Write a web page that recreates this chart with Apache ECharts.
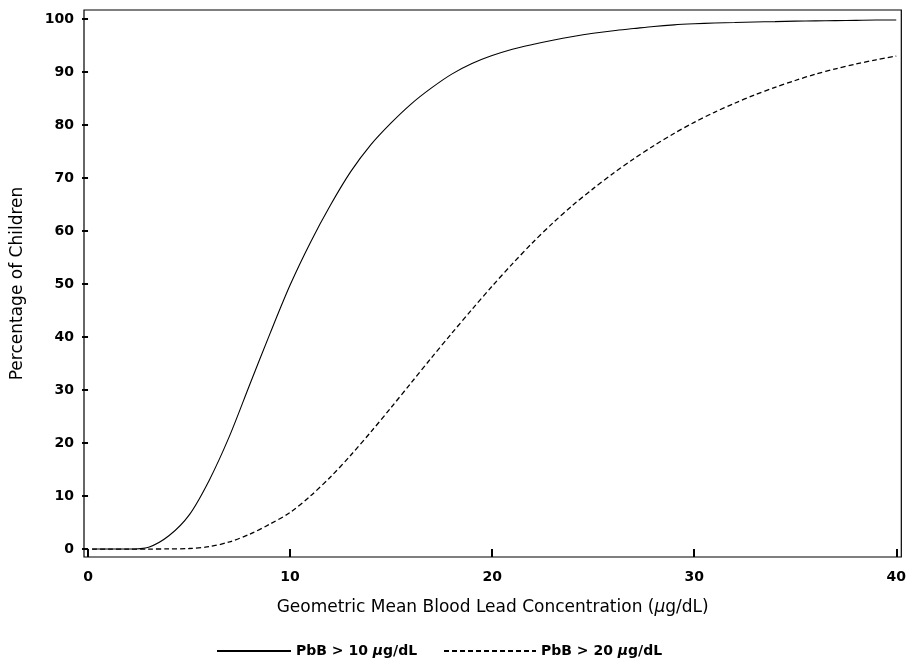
<!DOCTYPE html>
<html>
<head>
<meta charset="utf-8">
<script src="https://cdn.jsdelivr.net/npm/echarts@6/dist/echarts.min.js"></script>
<style>
  html, body { margin: 0; padding: 0; background: #fff; }
  #chart { width: 909px; height: 664px; }
</style>
</head>
<body>
<div id="chart"></div>
<script>
// Geometric mean blood lead concentration (µg/dL)
const gm = [0.2, 1, 2, 3, 4, 5, 6, 7, 8, 9, 10, 11, 12, 13, 14, 15, 16, 17, 18, 19, 20,
            21, 22, 23, 24, 25, 26, 27, 28, 29, 30, 31, 32, 33, 34, 35, 36, 37, 38, 39, 40];

// Percentage of children with PbB > 10 µg/dL
const over10 = [0, 0, 0, 0.35, 2.5, 6.4, 13.0, 21.3, 31.0, 40.6, 49.8, 57.8, 64.9, 71.2, 76.3,
                80.4, 84.0, 87.0, 89.6, 91.6, 93.1, 94.3, 95.2, 96.0, 96.7, 97.3, 97.8, 98.2,
                98.6, 98.9, 99.1, 99.25, 99.35, 99.45, 99.5, 99.6, 99.65, 99.7, 99.75, 99.8, 99.8];

// Percentage of children with PbB > 20 µg/dL
const over20 = [0, 0, 0, 0, 0.03, 0.1, 0.45, 1.35, 2.8, 4.7, 6.9, 10.0, 13.6, 17.7, 22.1,
                26.7, 31.4, 36.1, 40.7, 45.2, 49.6, 53.8, 57.8, 61.5, 64.9, 68.0, 70.9, 73.6,
                76.1, 78.4, 80.5, 82.4, 84.1, 85.7, 87.1, 88.4, 89.6, 90.6, 91.5, 92.3, 93.0];

const xTicks = [0, 10, 20, 30, 40];
const yTicks = [0, 10, 20, 30, 40, 50, 60, 70, 80, 90, 100];

const seriesNames = ['PbB > 10 μg/dL', 'PbB > 20 μg/dL'];

const FONT = '"DejaVu Sans", "Liberation Sans", sans-serif';

const pairs = (ys) => gm.map((x, i) => [x, ys[i]]);

const legendFormatter = (name) => name.replace('μ', '{mu|μ}');
const legendText = {
  fontFamily: FONT, fontSize: 14, fontWeight: 'bold', color: '#000',
  rich: { mu: { fontFamily: FONT, fontSize: 14, fontWeight: 'bold', fontStyle: 'italic', color: '#000' } }
};

const chart = echarts.init(document.getElementById('chart'), null, { renderer: 'canvas' });

chart.setOption({
  animation: false,
  backgroundColor: '#fff',
  grid: {
    left: 84, top: 10, right: 7, bottom: 107,
    show: true, borderColor: '#000', borderWidth: 1.2, backgroundColor: 'transparent'
  },
  xAxis: {
    type: 'value', min: -0.2, max: 40.25,
    axisLine: { show: false },
    splitLine: { show: false },
    axisTick: { show: true, inside: false, length: 8, customValues: xTicks, lineStyle: { color: '#000', width: 2 } },
    axisLabel: { customValues: xTicks, margin: 13, fontFamily: FONT, fontSize: 14, fontWeight: 'bold', color: '#000' },
    name: 'Geometric Mean Blood Lead Concentration ({mu|μ}g/dL)',
    nameLocation: 'middle', nameGap: 42,
    nameTextStyle: {
      fontFamily: FONT, fontSize: 17, color: '#000',
      rich: { mu: { fontFamily: FONT, fontSize: 17, fontStyle: 'italic', color: '#000' } }
    }
  },
  yAxis: {
    type: 'value', min: -1.5, max: 101.7,
    axisLine: { show: false },
    splitLine: { show: false },
    axisTick: { show: true, inside: false, length: 6, customValues: yTicks, lineStyle: { color: '#000', width: 2 } },
    axisLabel: { customValues: yTicks, margin: 10, fontFamily: FONT, fontSize: 14, fontWeight: 'bold', color: '#000' },
    name: 'Percentage of Children',
    nameLocation: 'middle', nameGap: 58, nameRotate: 90,
    nameTextStyle: { fontFamily: FONT, fontSize: 17, color: '#000' }
  },
  legend: [
    {
      data: [seriesNames[0]], left: 216, top: 644, padding: 0,
      itemWidth: 74, itemHeight: 14, itemGap: 10,
      formatter: legendFormatter, textStyle: legendText,
      itemStyle: { opacity: 0, borderWidth: 0 },
      lineStyle: { width: 2 }
    },
    {
      data: [seriesNames[1]], left: 443, top: 644, padding: 0,
      itemWidth: 92, itemHeight: 14, itemGap: 12,
      formatter: legendFormatter, textStyle: legendText,
      itemStyle: { opacity: 0, borderWidth: 0 },
      lineStyle: { width: 2 }
    }
  ],
  series: [
    {
      name: seriesNames[0], type: 'line', data: pairs(over10),
      symbol: 'none', smooth: 0.3,
      lineStyle: { color: '#000', width: 1.1, type: 'solid' },
      itemStyle: { color: '#000' }
    },
    {
      name: seriesNames[1], type: 'line', data: pairs(over20),
      symbol: 'none', smooth: 0.3,
      lineStyle: { color: '#000', width: 1.3, type: [5, 3] },
      itemStyle: { color: '#000' }
    }
  ]
});
</script>
</body>
</html>
